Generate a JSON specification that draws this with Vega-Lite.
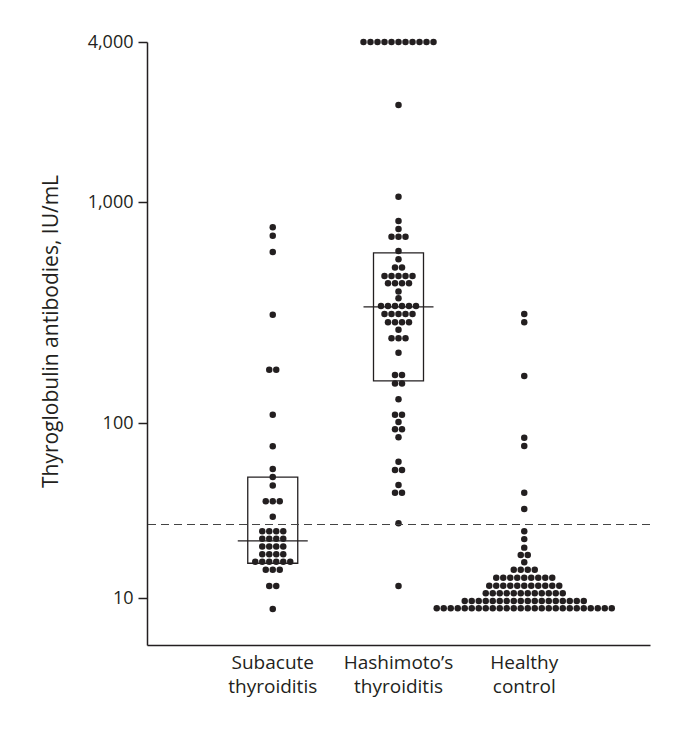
{
  "$schema": "https://vega.github.io/schema/vega-lite/v6.json",
  "width": 503,
  "height": 603,
  "autosize": "none",
  "padding": {"left": 147, "top": 42, "right": 43, "bottom": 89},
  "background": "white",
  "config": {
    "view": {"stroke": null},
    "font": "Open Sans",
    "axis": {"domainColor": "#231f20", "tickColor": "#231f20", "labelColor": "#231f20", "titleColor": "#231f20", "domainWidth": 1.5, "tickWidth": 1.5, "grid": false, "labelFontSize": 18, "titleFontSize": 18, "titleFontWeight": "normal", "labelFont": "Open Sans", "titleFont": "Open Sans"}
  },
  "datasets": {
    "dots": [
      {"g": "Subacute thyroiditis", "v": 768}, {"g": "Subacute thyroiditis", "v": 704}, {"g": "Subacute thyroiditis", "v": 594}, {"g": "Subacute thyroiditis", "v": 309},
      {"g": "Subacute thyroiditis", "v": 174}, {"g": "Subacute thyroiditis", "v": 174}, {"g": "Subacute thyroiditis", "v": 109}, {"g": "Subacute thyroiditis", "v": 73.6},
      {"g": "Subacute thyroiditis", "v": 54.6}, {"g": "Subacute thyroiditis", "v": 49.1}, {"g": "Subacute thyroiditis", "v": 44},
      {"g": "Subacute thyroiditis", "v": 35.7}, {"g": "Subacute thyroiditis", "v": 35.7}, {"g": "Subacute thyroiditis", "v": 35.7},
      {"g": "Subacute thyroiditis", "v": 29.1},
      {"g": "Subacute thyroiditis", "v": 24.1}, {"g": "Subacute thyroiditis", "v": 24.1}, {"g": "Subacute thyroiditis", "v": 24.1}, {"g": "Subacute thyroiditis", "v": 24.1},
      {"g": "Subacute thyroiditis", "v": 21.8}, {"g": "Subacute thyroiditis", "v": 21.8}, {"g": "Subacute thyroiditis", "v": 21.8}, {"g": "Subacute thyroiditis", "v": 21.8},
      {"g": "Subacute thyroiditis", "v": 19.7}, {"g": "Subacute thyroiditis", "v": 19.7}, {"g": "Subacute thyroiditis", "v": 19.7}, {"g": "Subacute thyroiditis", "v": 19.7},
      {"g": "Subacute thyroiditis", "v": 17.8}, {"g": "Subacute thyroiditis", "v": 17.8}, {"g": "Subacute thyroiditis", "v": 17.8}, {"g": "Subacute thyroiditis", "v": 17.8},
      {"g": "Subacute thyroiditis", "v": 16.1}, {"g": "Subacute thyroiditis", "v": 16.1}, {"g": "Subacute thyroiditis", "v": 16.1}, {"g": "Subacute thyroiditis", "v": 16.1}, {"g": "Subacute thyroiditis", "v": 16.1}, {"g": "Subacute thyroiditis", "v": 16.1},
      {"g": "Subacute thyroiditis", "v": 14.5}, {"g": "Subacute thyroiditis", "v": 14.5}, {"g": "Subacute thyroiditis", "v": 14.5},
      {"g": "Subacute thyroiditis", "v": 11.7}, {"g": "Subacute thyroiditis", "v": 11.7},
      {"g": "Subacute thyroiditis", "v": 8.65},

      {"g": "Hashimoto’s thyroiditis", "v": 4000}, {"g": "Hashimoto’s thyroiditis", "v": 4000}, {"g": "Hashimoto’s thyroiditis", "v": 4000}, {"g": "Hashimoto’s thyroiditis", "v": 4000},
      {"g": "Hashimoto’s thyroiditis", "v": 4000}, {"g": "Hashimoto’s thyroiditis", "v": 4000}, {"g": "Hashimoto’s thyroiditis", "v": 4000}, {"g": "Hashimoto’s thyroiditis", "v": 4000},
      {"g": "Hashimoto’s thyroiditis", "v": 4000}, {"g": "Hashimoto’s thyroiditis", "v": 4000}, {"g": "Hashimoto’s thyroiditis", "v": 4000},
      {"g": "Hashimoto’s thyroiditis", "v": 2317}, {"g": "Hashimoto’s thyroiditis", "v": 1047}, {"g": "Hashimoto’s thyroiditis", "v": 820}, {"g": "Hashimoto’s thyroiditis", "v": 755},
      {"g": "Hashimoto’s thyroiditis", "v": 697}, {"g": "Hashimoto’s thyroiditis", "v": 697}, {"g": "Hashimoto’s thyroiditis", "v": 697},
      {"g": "Hashimoto’s thyroiditis", "v": 600}, {"g": "Hashimoto’s thyroiditis", "v": 551},
      {"g": "Hashimoto’s thyroiditis", "v": 505}, {"g": "Hashimoto’s thyroiditis", "v": 505},
      {"g": "Hashimoto’s thyroiditis", "v": 463}, {"g": "Hashimoto’s thyroiditis", "v": 463}, {"g": "Hashimoto’s thyroiditis", "v": 463}, {"g": "Hashimoto’s thyroiditis", "v": 463}, {"g": "Hashimoto’s thyroiditis", "v": 463},
      {"g": "Hashimoto’s thyroiditis", "v": 429}, {"g": "Hashimoto’s thyroiditis", "v": 429}, {"g": "Hashimoto’s thyroiditis", "v": 429}, {"g": "Hashimoto’s thyroiditis", "v": 429},
      {"g": "Hashimoto’s thyroiditis", "v": 394}, {"g": "Hashimoto’s thyroiditis", "v": 367},
      {"g": "Hashimoto’s thyroiditis", "v": 338}, {"g": "Hashimoto’s thyroiditis", "v": 338}, {"g": "Hashimoto’s thyroiditis", "v": 338}, {"g": "Hashimoto’s thyroiditis", "v": 338}, {"g": "Hashimoto’s thyroiditis", "v": 338}, {"g": "Hashimoto’s thyroiditis", "v": 338},
      {"g": "Hashimoto’s thyroiditis", "v": 311}, {"g": "Hashimoto’s thyroiditis", "v": 311}, {"g": "Hashimoto’s thyroiditis", "v": 311}, {"g": "Hashimoto’s thyroiditis", "v": 311}, {"g": "Hashimoto’s thyroiditis", "v": 311},
      {"g": "Hashimoto’s thyroiditis", "v": 286}, {"g": "Hashimoto’s thyroiditis", "v": 286}, {"g": "Hashimoto’s thyroiditis", "v": 286}, {"g": "Hashimoto’s thyroiditis", "v": 286},
      {"g": "Hashimoto’s thyroiditis", "v": 264},
      {"g": "Hashimoto’s thyroiditis", "v": 242}, {"g": "Hashimoto’s thyroiditis", "v": 242}, {"g": "Hashimoto’s thyroiditis", "v": 242},
      {"g": "Hashimoto’s thyroiditis", "v": 208},
      {"g": "Hashimoto’s thyroiditis", "v": 165}, {"g": "Hashimoto’s thyroiditis", "v": 165},
      {"g": "Hashimoto’s thyroiditis", "v": 151}, {"g": "Hashimoto’s thyroiditis", "v": 151},
      {"g": "Hashimoto’s thyroiditis", "v": 128},
      {"g": "Hashimoto’s thyroiditis", "v": 109}, {"g": "Hashimoto’s thyroiditis", "v": 109},
      {"g": "Hashimoto’s thyroiditis", "v": 101},
      {"g": "Hashimoto’s thyroiditis", "v": 92}, {"g": "Hashimoto’s thyroiditis", "v": 92},
      {"g": "Hashimoto’s thyroiditis", "v": 82.8}, {"g": "Hashimoto’s thyroiditis", "v": 60.1},
      {"g": "Hashimoto’s thyroiditis", "v": 53.9}, {"g": "Hashimoto’s thyroiditis", "v": 53.9},
      {"g": "Hashimoto’s thyroiditis", "v": 44.2},
      {"g": "Hashimoto’s thyroiditis", "v": 40}, {"g": "Hashimoto’s thyroiditis", "v": 40},
      {"g": "Hashimoto’s thyroiditis", "v": 26.7}, {"g": "Hashimoto’s thyroiditis", "v": 11.7},

      {"g": "Healthy control", "v": 311}, {"g": "Healthy control", "v": 286}, {"g": "Healthy control", "v": 163}, {"g": "Healthy control", "v": 82.4},
      {"g": "Healthy control", "v": 73.9}, {"g": "Healthy control", "v": 40}, {"g": "Healthy control", "v": 32.3}, {"g": "Healthy control", "v": 24.1},
      {"g": "Healthy control", "v": 21.7}, {"g": "Healthy control", "v": 19.4},
      {"g": "Healthy control", "v": 17.6}, {"g": "Healthy control", "v": 17.6},
      {"g": "Healthy control", "v": 16.0},
      {"g": "Healthy control", "v": 14.5}, {"g": "Healthy control", "v": 14.5}, {"g": "Healthy control", "v": 14.5}, {"g": "Healthy control", "v": 14.5},
      {"g": "Healthy control", "v": 13.06}, {"g": "Healthy control", "v": 13.06}, {"g": "Healthy control", "v": 13.06}, {"g": "Healthy control", "v": 13.06}, {"g": "Healthy control", "v": 13.06},
      {"g": "Healthy control", "v": 13.06}, {"g": "Healthy control", "v": 13.06}, {"g": "Healthy control", "v": 13.06}, {"g": "Healthy control", "v": 13.06},
      {"g": "Healthy control", "v": 11.76}, {"g": "Healthy control", "v": 11.76}, {"g": "Healthy control", "v": 11.76}, {"g": "Healthy control", "v": 11.76}, {"g": "Healthy control", "v": 11.76},
      {"g": "Healthy control", "v": 11.76}, {"g": "Healthy control", "v": 11.76}, {"g": "Healthy control", "v": 11.76}, {"g": "Healthy control", "v": 11.76}, {"g": "Healthy control", "v": 11.76},
      {"g": "Healthy control", "v": 11.76},
      {"g": "Healthy control", "v": 10.64}, {"g": "Healthy control", "v": 10.64}, {"g": "Healthy control", "v": 10.64}, {"g": "Healthy control", "v": 10.64}, {"g": "Healthy control", "v": 10.64},
      {"g": "Healthy control", "v": 10.64}, {"g": "Healthy control", "v": 10.64}, {"g": "Healthy control", "v": 10.64}, {"g": "Healthy control", "v": 10.64}, {"g": "Healthy control", "v": 10.64},
      {"g": "Healthy control", "v": 10.64}, {"g": "Healthy control", "v": 10.64},
      {"g": "Healthy control", "v": 9.61}, {"g": "Healthy control", "v": 9.61}, {"g": "Healthy control", "v": 9.61}, {"g": "Healthy control", "v": 9.61}, {"g": "Healthy control", "v": 9.61},
      {"g": "Healthy control", "v": 9.61}, {"g": "Healthy control", "v": 9.61}, {"g": "Healthy control", "v": 9.61}, {"g": "Healthy control", "v": 9.61}, {"g": "Healthy control", "v": 9.61},
      {"g": "Healthy control", "v": 9.61}, {"g": "Healthy control", "v": 9.61}, {"g": "Healthy control", "v": 9.61}, {"g": "Healthy control", "v": 9.61}, {"g": "Healthy control", "v": 9.61},
      {"g": "Healthy control", "v": 9.61}, {"g": "Healthy control", "v": 9.61}, {"g": "Healthy control", "v": 9.61},
      {"g": "Healthy control", "v": 8.73}, {"g": "Healthy control", "v": 8.73}, {"g": "Healthy control", "v": 8.73}, {"g": "Healthy control", "v": 8.73}, {"g": "Healthy control", "v": 8.73},
      {"g": "Healthy control", "v": 8.73}, {"g": "Healthy control", "v": 8.73}, {"g": "Healthy control", "v": 8.73}, {"g": "Healthy control", "v": 8.73}, {"g": "Healthy control", "v": 8.73},
      {"g": "Healthy control", "v": 8.73}, {"g": "Healthy control", "v": 8.73}, {"g": "Healthy control", "v": 8.73}, {"g": "Healthy control", "v": 8.73}, {"g": "Healthy control", "v": 8.73},
      {"g": "Healthy control", "v": 8.73}, {"g": "Healthy control", "v": 8.73}, {"g": "Healthy control", "v": 8.73}, {"g": "Healthy control", "v": 8.73}, {"g": "Healthy control", "v": 8.73},
      {"g": "Healthy control", "v": 8.73}, {"g": "Healthy control", "v": 8.73}, {"g": "Healthy control", "v": 8.73}, {"g": "Healthy control", "v": 8.73}, {"g": "Healthy control", "v": 8.73},
      {"g": "Healthy control", "v": 8.73}
    ],
    "boxes": [
      {"g": "Subacute thyroiditis", "v": 15.8, "v2": 49.1, "med": 21.2},
      {"g": "Hashimoto’s thyroiditis", "v": 155, "v2": 588, "med": 335}
    ],
    "cutoff": [{"v": 26.3}]
  },
  "encoding": {
    "y": {
      "field": "v",
      "type": "quantitative",
      "scale": {"type": "log", "domain": [5.4, 10, 100, 1000, 4000], "range": [603, 556, 381, 160, 0], "nice": false},
      "axis": {"values": [10, 100, 1000, 4000], "format": ",", "title": "Thyroglobulin antibodies, IU/mL", "titleFontSize": 21, "titleY": 289, "tickSize": 9, "labelPadding": 5, "titlePadding": 26, "labelOverlap": false}
    }
  },
  "layer": [
    {
      "data": {"name": "boxes"},
      "mark": {"type": "bar", "width": 50, "fill": "white", "fillOpacity": 0, "stroke": "#231f20", "strokeWidth": 1.3},
      "encoding": {
        "x": {"field": "g", "type": "nominal", "scale": {"domain": ["Subacute thyroiditis", "Hashimoto’s thyroiditis", "Healthy control"], "paddingInner": 0, "paddingOuter": 0.5}, "axis": {"title": null, "ticks": false, "labelAngle": 0, "labelFontSize": 19, "labelExpr": "split(datum.label, ' ')", "labelPadding": 8, "labelLineHeight": 24, "labelBaseline": "top"}},
        "y2": {"field": "v2"}
      }
    },
    {
      "data": {"name": "dots"},
      "transform": [
        {"window": [{"op": "row_number", "as": "rn"}, {"op": "count", "as": "n"}], "groupby": ["g", "v"], "frame": [null, null]},
        {"calculate": "datum.rn - (datum.n + 1) / 2", "as": "off"}
      ],
      "mark": {"type": "circle", "size": 42, "color": "#231f20", "opacity": 1},
      "encoding": {
        "x": {"field": "g", "type": "nominal", "scale": {"domain": ["Subacute thyroiditis", "Hashimoto’s thyroiditis", "Healthy control"], "paddingInner": 0, "paddingOuter": 0.5}, "axis": {"title": null, "ticks": false, "labelAngle": 0, "labelFontSize": 19, "labelExpr": "split(datum.label, ' ')", "labelPadding": 8, "labelLineHeight": 24, "labelBaseline": "top"}},
        "xOffset": {"field": "off", "type": "quantitative", "scale": {"domain": [-8.98, 8.98], "nice": false, "zero": false}}
      }
    },
    {
      "data": {"name": "boxes"},
      "mark": {"type": "tick", "size": 70, "thickness": 1.3, "color": "#231f20", "opacity": 1},
      "encoding": {
        "x": {"field": "g", "type": "nominal", "scale": {"domain": ["Subacute thyroiditis", "Hashimoto’s thyroiditis", "Healthy control"], "paddingInner": 0, "paddingOuter": 0.5}, "axis": {"title": null, "ticks": false, "labelAngle": 0, "labelFontSize": 19, "labelExpr": "split(datum.label, ' ')", "labelPadding": 8, "labelLineHeight": 24, "labelBaseline": "top"}},
        "y": {"field": "med", "type": "quantitative"}
      }
    },
    {
      "data": {"name": "cutoff"},
      "mark": {"type": "rule", "strokeDash": [8, 5], "color": "#444444", "strokeWidth": 1.2},
      "encoding": {}
    }
  ]
}
